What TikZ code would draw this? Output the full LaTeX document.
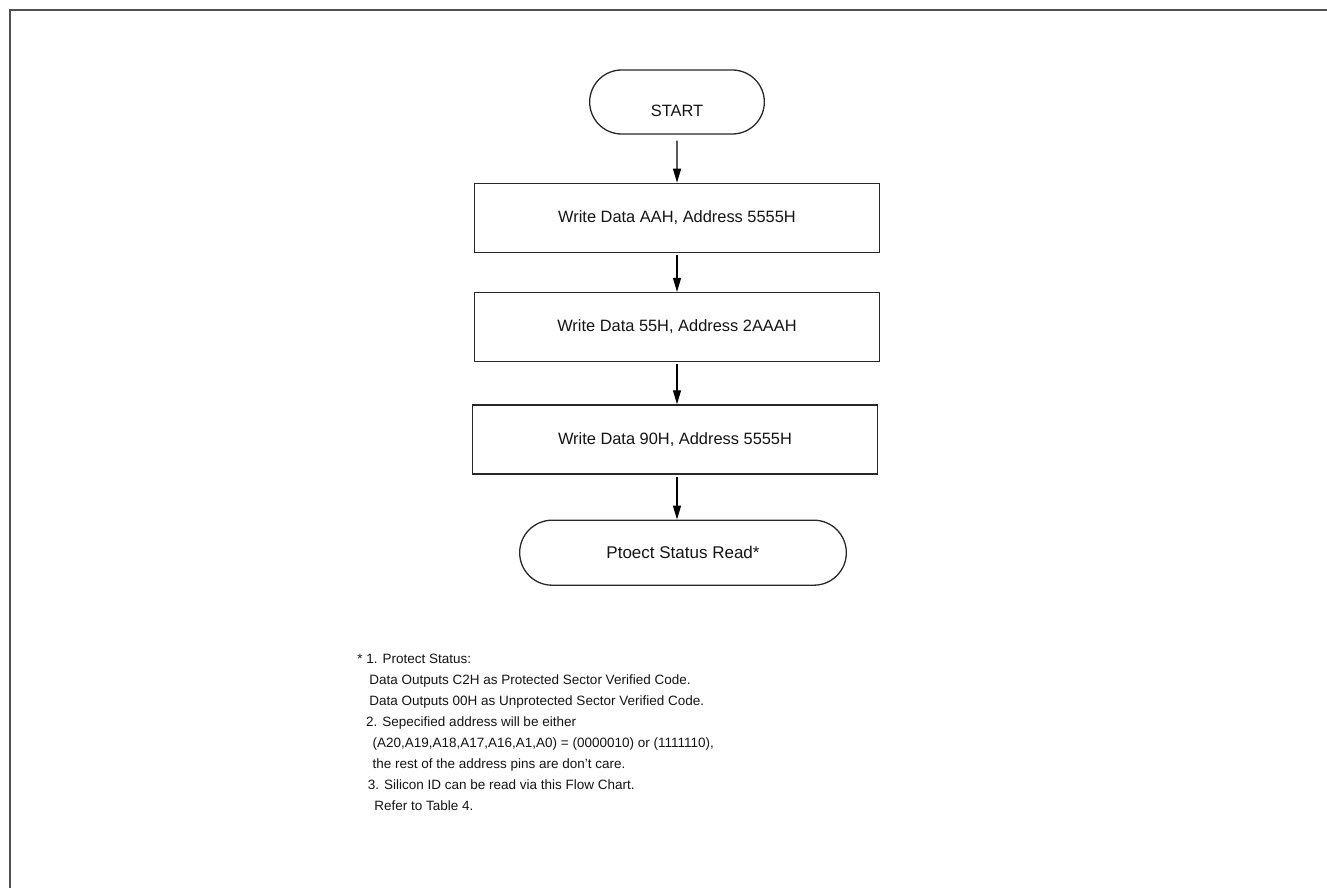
\documentclass[tikz,border=0pt]{standalone}
\usepackage{fontspec}
\setmainfont{Liberation Sans}
\usetikzlibrary{
  shapes.misc,
  arrows.meta,
  positioning
}
\definecolor{framecolor}{RGB}{80, 80, 80}
\definecolor{linecolor}{RGB}{40, 40, 40}
\definecolor{labelcolor}{RGB}{20, 20, 20}
\tikzset{
blocktext/.style={
  align=center,
  font=\fontsize{8.2}{10}\selectfont,
  text=labelcolor
},
termblock/.style={
  draw=linecolor,
  rounded rectangle,
  line width=0.65pt,
  minimum height=32pt,
  blocktext
},
stepblock/.style={
  draw=linecolor,
  line width=0.65pt,
  minimum height=34.5pt,
  minimum width=202.5pt,
  blocktext
},
notetext/.style={
  align=left,
  font=\fontsize{6.75}{10.5}\selectfont,
  text=labelcolor,
  inner sep=0pt
},
frameline/.style={
  draw=framecolor,
  line width=1pt
},
arrow/.style={
  -{Triangle[length=7pt,width=4pt]},
  line width=0.6pt,
  draw=black,
  shorten <=1pt
}
}

\begin{document}
\begin{tikzpicture}[x=0.5pt,y=-0.5pt]
  \useasboundingbox (0,0) rectangle (1327,888);
  \draw[frameline] (10,888) -- (10,10) -- (1327,10);

  % flow chart
  \node[termblock, minimum width=94pt, text height=15pt, text depth=0pt] (start) at (677,102) {START};
  \node[stepblock, below=24pt of start] (writeaa) {Write Data AAH, Address 5555H};
  \node[stepblock, below=19.5pt of writeaa] (write55) {Write Data 55H, Address 2AAAH};
  \node[stepblock, below=21pt of write55, xshift=-1pt] (write90) {Write Data 90H, Address 5555H};
  \node[termblock, minimum width=170pt, minimum height=32.5pt, font=\fontsize{8.5}{10}\selectfont, below=22.5pt of write90, xshift=4pt] (statusread) {Ptoect Status Read*};

  \draw[arrow, shorten <=3pt] (start) -- (writeaa);
  \draw[arrow] (writeaa) -- (write55);
  \draw[arrow] (write55.south) -- (write55.south |- write90.north);
  \draw[arrow] (write55.south |- write90.south) -- (write55.south |- statusread.north);

  % notes
  \node[notetext, anchor=north west] (notes) at (357,654) {%
    \hspace*{0pt}* 1. Protect Status:\\
    \hspace*{6pt}Data Outputs C2H as Protected Sector Verified Code.\\
    \hspace*{6pt}Data Outputs 00H as Unprotected Sector Verified Code.\\
    \hspace*{4.4pt}2. Sepecified address will be either\\
    \hspace*{7.6pt}(A20,A19,A18,A17,A16,A1,A0) = (0000010) or (1111110),\\
    \hspace*{7.6pt}the rest of the address pins are don't care.\\
    \hspace*{5.2pt}3. Silicon ID can be read via this Flow Chart.\\
    \hspace*{8.5pt}Refer to Table 4.};
\end{tikzpicture}
\end{document}
